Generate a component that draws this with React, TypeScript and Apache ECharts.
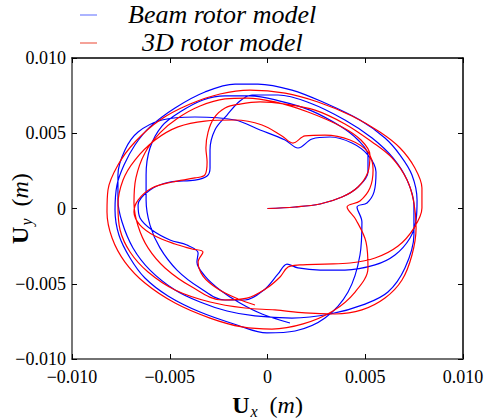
import React, { useEffect, useRef } from "react";
import * as echarts from "echarts";

// Orbit data (millimetres)
const blueUx = [0, 1.41, 2.69, 3.81, 4.63, 5.14, 5.14, 4.63, 3.71, 2.17, 0.64, -0.9, -2.17, -3.3, -4.48, -5.4, -6.01, -6.21, -6.21, -6.01, -5.5, -4.63, -3.45, -2.17, -1.15, -0.18, 0.54, 1.0, 1.56, 2.69, 3.96, 5.5, 6.52, 7.29, 7.6, 7.65, 7.39, 6.78, 6.01, 4.73, 2.94, 1.25, -0.49, -1.66, -3.2, -4.73, -6.01, -6.78, -7.34, -7.7, -7.8, -7.6, -7.03, -6.27, -5.09, -3.45, -1.56, -0.03, 1.41, 2.94, 4.12, 4.73, 4.83, 4.58, 5.09, 5.45, 5.55, 5.14, 4.32, 3.2, 2.28, 1.56, 0.9, -0.38, -1.66, -3.71, -5.4, -6.62, -7.29, -7.65, -7.65, -7.44, -6.88, -6.01, -4.73, -3.45, -2.07, -0.64, 1.25, 3.2, 4.99, 6.16, 7.03, 7.49, 7.49, 7.14, 6.42, 5.35, 3.96, 2.17, 0.54, -0.79, -1.41, -2.07, -2.69, -2.94, -2.94, -3.09, -3.71, -4.99, -6.01, -6.62, -6.52, -5.91, -4.99, -4.12, -3.55, -3.61, -3.2, -2.43, -1.41, -0.28, 1.15];
const blueUy = [0, 0.1, 0.3, 0.76, 1.43, 2.43, 3.55, 4.55, 5.48, 6.54, 7.14, 7.48, 7.48, 7.21, 6.41, 5.48, 4.02, 2.23, 0.56, -1.1, -2.62, -4.09, -5.28, -6.08, -6.08, -5.41, -4.35, -3.69, -3.95, -4.09, -4.09, -3.75, -3.09, -1.96, -0.76, 0.56, 2.23, 3.55, 4.68, 5.88, 7.01, 7.87, 8.27, 8.27, 7.74, 6.68, 5.42, 4.22, 2.89, 1.56, -0.1, -1.76, -3.29, -4.62, -5.81, -6.88, -7.74, -8.27, -8.14, -7.28, -5.55, -3.09, -0.9, 0.1, 0.37, 1.1, 2.43, 3.55, 4.35, 4.75, 4.62, 4.02, 4.55, 5.22, 5.88, 6.08, 5.88, 5.08, 3.89, 2.23, 0.56, -0.9, -2.62, -4.09, -5.41, -6.21, -6.81, -7.14, -7.28, -7.01, -6.35, -5.55, -3.95, -1.76, 0.23, 1.89, 3.36, 4.68, 5.88, 7.01, 7.54, 7.54, 7.14, 6.21, 5.22, 3.89, 2.69, 2.16, 1.89, 1.76, 1.23, 0.23, -0.63, -1.43, -2.09, -2.43, -2.96, -3.56, -4.49, -5.41, -6.28, -7.01, -7.61];

const redUx = [0, 1.41, 2.69, 3.81, 4.63, 5.14, 5.24, 4.78, 3.81, 2.07, 0.38, -1.05, -2.17, -3.45, -4.58, -5.5, -6.27, -6.73, -6.83, -6.62, -6.11, -5.24, -3.86, -2.33, -1.05, -0.03, 0.64, 1.05, 1.66, 2.94, 4.22, 5.5, 6.68, 7.49, 7.9, 7.9, 7.54, 6.78, 5.75, 4.32, 2.58, 0.9, -0.9, -2.43, -3.96, -5.5, -6.78, -7.65, -8.16, -8.21, -7.95, -7.29, -6.27, -4.73, -2.94, -1.3, 0.23, 1.82, 3.35, 4.48, 5.14, 5.04, 4.53, 4.07, 4.73, 5.24, 5.4, 5.14, 4.22, 2.94, 1.92, 1.3, 0.74, -0.28, -1.66, -3.2, -4.58, -5.75, -6.78, -7.39, -7.65, -7.54, -7.03, -6.11, -4.73, -2.94, -1.15, 0.38, 1.92, 3.45, 4.83, 6.01, 6.88, 7.39, 7.6, 7.49, 7.14, 6.37, 5.35, 3.96, 2.43, 0.9, -0.38, -1.41, -2.17, -2.74, -3.04, -3.15, -3.09, -3.2, -3.71, -4.88, -5.91, -6.62, -6.83, -6.52, -5.75, -4.73, -3.86, -3.3, -3.55, -3.3, -2.53, -1.51, -0.64];
const redUy = [0, 0.1, 0.3, 0.76, 1.43, 2.43, 3.55, 4.55, 5.42, 6.41, 7.08, 7.34, 7.28, 6.81, 6.01, 5.02, 3.69, 2.03, 0.37, -1.16, -2.62, -3.95, -5.22, -6.08, -5.95, -5.28, -4.55, -3.89, -3.75, -3.69, -3.62, -3.29, -2.49, -1.3, 0.03, 1.36, 2.69, 4.02, 5.08, 6.15, 7.08, 7.67, 7.87, 7.61, 6.94, 5.88, 4.42, 2.89, 1.23, -0.23, -1.96, -3.56, -4.95, -6.28, -7.28, -7.87, -8.01, -7.67, -6.81, -5.55, -3.95, -2.23, -0.76, 0.1, 0.5, 1.36, 2.56, 3.75, 4.55, 4.88, 4.82, 4.35, 4.82, 5.55, 5.88, 5.81, 5.42, 4.55, 3.22, 1.89, 0.23, -1.43, -2.89, -4.22, -5.41, -6.21, -6.61, -6.74, -6.94, -7.01, -6.74, -5.95, -4.75, -3.09, -1.3, 0.37, 1.89, 3.36, 4.42, 5.62, 6.54, 6.94, 7.08, 6.94, 6.68, 6.01, 5.08, 4.02, 3.09, 2.23, 2.03, 1.76, 1.36, 0.56, -0.23, -1.1, -1.83, -2.36, -2.69, -2.89, -3.56, -4.49, -5.35, -6.01, -6.41];

const legendNames = ["Beam rotor model", "3D rotor model"];

const SERIF = "'Liberation Serif', 'Times New Roman', serif";

function toPairs(xs: number[], ys: number[]) {
  return xs.map((x, i) => [x * 0.001, ys[i] * 0.001]);
}

function fmt(v: number) {
  if (Math.abs(v) < 1e-9) return "0";
  return (v < 0 ? "\u2212" : "") + Math.abs(v).toFixed(3);
}

export default function App() {
  const ref = useRef<HTMLDivElement>(null);
  useEffect(() => {
    if (!ref.current) return;
    const chart = echarts.init(ref.current, null, { renderer: "svg" });
    const nameRich = {
      u: { fontFamily: SERIF, fontWeight: "bold", fontSize: 24, color: "#000", lineHeight: 28 },
      s: { fontFamily: SERIF, fontStyle: "italic", fontSize: 16, color: "#000", verticalAlign: "bottom", lineHeight: 16, padding: [0, 0, 0, 1] },
      p: { fontFamily: SERIF, fontSize: 24, color: "#000", lineHeight: 28 },
      m: { fontFamily: SERIF, fontStyle: "italic", fontSize: 24, color: "#000", lineHeight: 28 },
      g: { fontSize: 24, width: 12, lineHeight: 28 },
    };
    const axisCommon = {
      type: "value" as const,
      min: -0.01,
      max: 0.01,
      interval: 0.005,
      splitLine: { show: false },
      axisTick: { show: true, inside: true, length: 5, lineStyle: { color: "#000", width: 1 } },
    };
    chart.setOption({
      animation: false,
      backgroundColor: "#fff",
      grid: { left: 72, right: 21, top: 58, bottom: 59, containLabel: false, outerBoundsMode: "none" },
      xAxis: [
        {
          ...axisCommon,
          position: "bottom",
          axisLine: { show: true, onZero: false, lineStyle: { color: "#444", width: 1.5 } },
          axisLabel: {
            formatter: fmt,
            fontFamily: SERIF,
            fontSize: 18,
            color: "#000",
            margin: 9,
            showMinLabel: true,
            showMaxLabel: true,
          },
          name: "{u|U}{s|x}{g|}{p|(}{m|m}{p|)}",
          nameLocation: "middle",
          nameGap: 32,
          nameMoveOverlap: false,
          nameTextStyle: { rich: nameRich },
        },
        {
          ...axisCommon,
          position: "top",
          axisLine: { show: true, onZero: false, lineStyle: { color: "#000", width: 1.5 } },
          axisLabel: { show: false },
        },
      ],
      yAxis: [
        {
          ...axisCommon,
          position: "left",
          axisLine: { show: true, onZero: false, lineStyle: { color: "#777", width: 2 } },
          axisLabel: {
            formatter: fmt,
            fontFamily: SERIF,
            fontSize: 18,
            color: "#000",
            margin: 6,
            showMinLabel: true,
            showMaxLabel: true,
          },
          name: "{u|U}{s|y}{g|}{p|(}{m|m}{p|)}",
          nameLocation: "middle",
          nameGap: 38,
          nameMoveOverlap: false,
          nameTextStyle: { rich: nameRich },
        },
        {
          ...axisCommon,
          position: "right",
          axisLine: { show: true, onZero: false, lineStyle: { color: "#000", width: 1.5 } },
          axisLabel: { show: false },
        },
      ],
      series: [
        {
          name: legendNames[0],
          type: "line",
          data: toPairs(blueUx, blueUy),
          showSymbol: false,
          smooth: 0.35,
          lineStyle: { color: "#0000ff", width: 1.2 },
          itemStyle: { color: "#0000ff" },
          xAxisIndex: 0,
          yAxisIndex: 0,
        },
        {
          name: legendNames[1],
          type: "line",
          data: toPairs(redUx, redUy),
          showSymbol: false,
          smooth: 0.35,
          lineStyle: { color: "#ff0000", width: 1.2 },
          itemStyle: { color: "#ff0000" },
          xAxisIndex: 0,
          yAxisIndex: 0,
        },
      ],
      graphic: [
        { type: "line", shape: { x1: 80, y1: 15, x2: 97, y2: 15 }, style: { stroke: "#7f8cff", lineWidth: 1.3 } },
        { type: "line", shape: { x1: 80, y1: 43, x2: 97, y2: 43 }, style: { stroke: "#f07060", lineWidth: 1.3 } },
        {
          type: "text",
          x: 128,
          y: 14,
          style: { text: legendNames[0], fontFamily: SERIF, fontStyle: "italic", fontSize: 26, fill: "#000", verticalAlign: "middle", textVerticalAlign: "middle" },
        },
        {
          type: "text",
          x: 142,
          y: 42,
          style: { text: legendNames[1], fontFamily: SERIF, fontStyle: "italic", fontSize: 26, fill: "#000", verticalAlign: "middle", textVerticalAlign: "middle" },
        },
      ],
    });
    return () => chart.dispose();
  }, []);
  return <div ref={ref} style={{ width: 484, height: 418, position: "absolute", left: 0, top: 0 }} />;
}
